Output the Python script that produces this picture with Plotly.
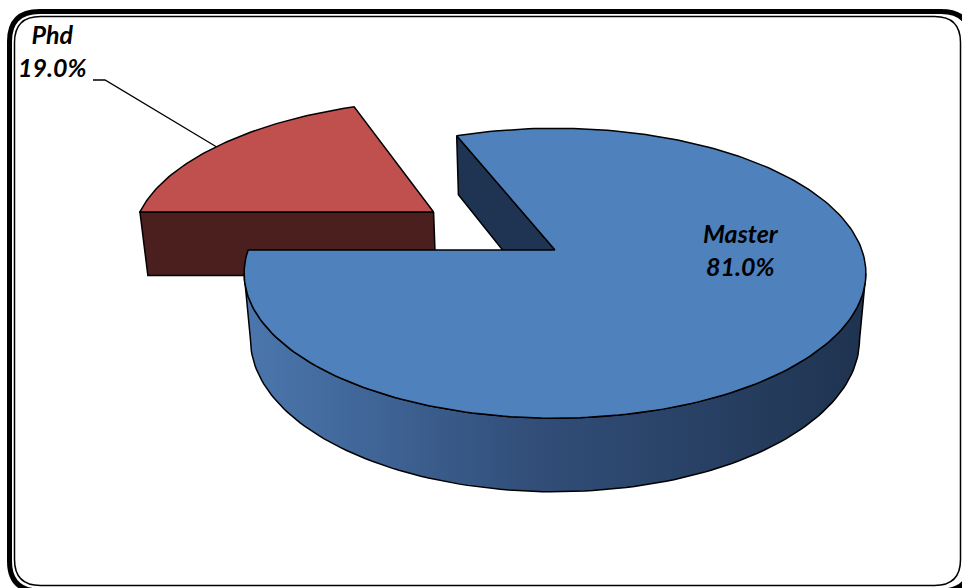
import numpy as np
import plotly.graph_objects as go

# ---- data ----
labels = ["Phd", "Master"]
values = [19.0, 81.0]
pct_text = ["19.0%", "81.0%"]
top_colors = ["#C0504D", "#4F81BD"]
side_colors = ["#4A1F1E", "#1F3452"]
explode = [0.5, 0.0]
first_angle = 270.0  # degrees clockwise from 12 o'clock

# ---- 3D projection settings ----
CX, CY = 555.0, 250.0
F, D = 1700.0, 5.54
ALPHA = np.radians(27.4)
H = 0.245
ca, sa = np.cos(ALPHA), np.sin(ALPHA)


def proj(X, Y, Z):
    X = np.asarray(X, float); Y = np.asarray(Y, float); Z = np.asarray(Z, float)
    yc = Y * ca + Z * sa
    zc = Z * ca - Y * sa
    s = F / (D + zc)
    return CX + X * s, CY - yc * s


def ring(th_deg, y, ox, oz):
    t = np.radians(th_deg)
    return proj(np.sin(t) + ox, np.full_like(t, y), np.cos(t) + oz)


total = sum(values)
fig = go.Figure()
LINE = dict(color="black", width=1.5)

def add_poly(xs, ys, color, **kw):
    fig.add_trace(go.Scatter(x=list(xs) + [xs[0]], y=list(ys) + [ys[0]], mode="lines",
                             fill="toself", fillcolor=color, line=LINE,
                             hoverinfo="skip", showlegend=False, **kw))

# slice angular ranges
ranges = []
a = first_angle
for v in values:
    span = v / total * 360.0
    ranges.append((a, a + span))
    a += span

sil = np.degrees(np.arccos(-ca / D))  # silhouette angles: sil and 360 - sil

# ---- Phd (exploded) ----
a0, a1 = ranges[0]
mid = np.radians((a0 + a1) / 2)
ox, oz = explode[0] * np.sin(mid), explode[0] * np.cos(mid)
apx_t = proj(ox, 0, oz); apx_b = proj(ox, -H, oz)
p0t = ring(np.array([a0]), 0, ox, oz); p0b = ring(np.array([a0]), -H, ox, oz)
add_poly([apx_t[0], p0t[0][0], p0b[0][0], apx_b[0]],
         [apx_t[1], p0t[1][0], p0b[1][0], apx_b[1]], side_colors[0])
th = np.linspace(a0, a1, 80)
rx, ry = ring(th, 0, ox, oz)
add_poly([apx_t[0]] + list(rx), [apx_t[1]] + list(ry), top_colors[0])
# leader line point on the outer arc
lp = ring(np.array([np.degrees(mid) - 1]), 0, ox, oz)
phd_anchor = (lp[0][0], lp[1][0])

# ---- Master ----
b0, b1 = ranges[1]
apx_t = proj(0, 0, 0); apx_b = proj(0, -H, 0)
q0t = ring(np.array([b0]), 0, 0, 0); q0b = ring(np.array([b0]), -H, 0, 0)
add_poly([apx_t[0], q0t[0][0], q0b[0][0], apx_b[0]],
         [apx_t[1], q0t[1][0], q0b[1][0], apx_b[1]], side_colors[1])
# outer visible side
lo, hi = sil, min(360 - sil, b1 - 360 if b1 > 360 else b1)
th = np.linspace(lo, hi, 120)
tx, ty = ring(th, 0, 0, 0)
bx, by = ring(th[::-1], -H, 0, 0)
sx = list(tx) + list(bx); sy = list(ty) + list(by)
fig.add_trace(go.Scatter(x=sx + [sx[0]], y=sy + [sy[0]], mode="lines", fill="toself",
                         fillgradient=dict(type="horizontal",
                                           colorscale=[[0, "#4B77AE"], [0.45, "#324F7A"], [1, "#1F3350"]]),
                         line=LINE, hoverinfo="skip", showlegend=False))
th = np.linspace(b0, b1, 240)
rx, ry = ring(th, 0, 0, 0)
add_poly([apx_t[0]] + list(rx), [apx_t[1]] + list(ry), top_colors[1])

# ---- labels ----
FONT = dict(family="Lato, 'Open Sans', sans-serif", size=25, color="black")
fig.add_annotation(x=741, y=249, text=f"<b><i>{labels[1]}<br>{pct_text[1]}</i></b>",
                   showarrow=False, font=FONT, align="center")
fig.add_annotation(x=52, y=50, text=f"<b><i>{labels[0]}<br>{pct_text[0]}</i></b>",
                   showarrow=False, font=FONT, align="center")
fig.add_trace(go.Scatter(x=[phd_anchor[0], 105, 93], y=[phd_anchor[1], 80, 80], mode="lines",
                         line=dict(color="black", width=1.3), hoverinfo="skip", showlegend=False))

# ---- frame ----
def rrect(x0, y0, x1, y1, r):
    return (f"M {x0+r},{y0} L {x1-r},{y0} Q {x1},{y0} {x1},{y0+r} L {x1},{y1-r} "
            f"Q {x1},{y1} {x1-r},{y1} L {x0+r},{y1} Q {x0},{y1} {x0},{y1-r} "
            f"L {x0},{y0+r} Q {x0},{y0} {x0+r},{y0} Z")

fig.add_shape(type="path", path=rrect(9.5, 11.5, 971, 591, 30), xref="x", yref="y",
              line=dict(color="black", width=5), layer="above")
fig.add_shape(type="path", path=rrect(14.5, 16.5, 960.5, 585.5, 26), xref="x", yref="y",
              line=dict(color="black", width=1.5), layer="above")

fig.update_layout(width=962, height=588, margin=dict(l=0, r=0, t=0, b=0),
                  paper_bgcolor="white", plot_bgcolor="white", showlegend=False,
                  xaxis=dict(range=[0, 962], visible=False, fixedrange=True),
                  yaxis=dict(range=[588, 0], visible=False, fixedrange=True))
fig.write_html("out.html", config={"displayModeBar": False},
               post_script="document.body.style.margin='0';document.body.style.overflow='hidden';")
